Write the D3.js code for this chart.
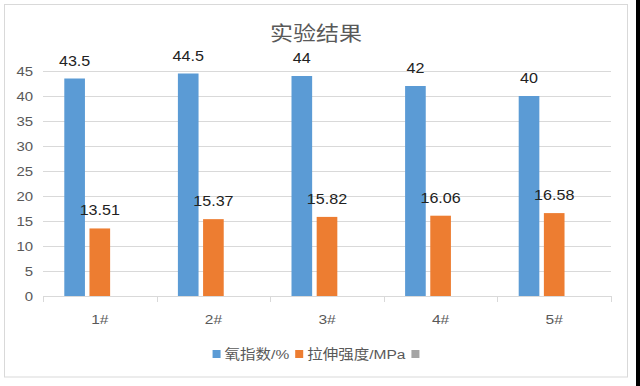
<!DOCTYPE html>
<html>
<head>
<meta charset="utf-8">
<script src="https://cdn.jsdelivr.net/npm/d3@7"></script>
<style>
  body { margin: 0; background: #fff; }
  text { font-family: "Liberation Sans", "Noto Sans CJK SC", sans-serif; }
</style>
</head>
<body>
<div id="chart"></div>
<script>
var svgWidth = 640;
var svgHeight = 386;

// data
var categories = ["1#", "2#", "3#", "4#", "5#"];
var seriesNames = ["氧指数/%", "拉伸强度/MPa", ""];
var oxygenIndex = [43.5, 44.5, 44, 42, 40];
var tensileStrength = [13.51, 15.37, 15.82, 16.06, 16.58];
var yTicks = [0, 5, 10, 15, 20, 25, 30, 35, 40, 45];
var colors = ["#5B9BD5", "#ED7D31", "#A5A5A5"];

var plot = { left: 43, right: 611, top: 71, bottom: 296 };
var stretch = 1.15; // source text looks horizontally stretched

var svg = d3.select("#chart").append("svg")
    .attr("width", svgWidth)
    .attr("height", svgHeight);

// outer chart border + black edge on the right
svg.append("rect")
    .attr("x", 4.5).attr("y", 4.5)
    .attr("width", 623).attr("height", 372.5)
    .attr("fill", "#fff").attr("stroke", "#D9D9D9");
svg.append("rect")
    .attr("x", 636).attr("y", 0)
    .attr("width", 4).attr("height", svgHeight)
    .attr("fill", "#000");

function addText(g, x, y, str, size, color, anchor) {
    return g.append("text")
        .attr("transform", `translate(${x},${y}) scale(${stretch},1)`)
        .attr("text-anchor", anchor || "middle")
        .attr("font-size", size)
        .attr("fill", color)
        .text(str);
}

// title
var title = addText(svg, 316, 41, "实验结果", 20, "#595959");
title.style("font-family", "'Noto Sans CJK SC', sans-serif");

var xScale = d3.scaleBand()
    .domain(categories)
    .range([plot.left, plot.right])
    .paddingInner(0.375)
    .paddingOuter(0.1875);

var xInner = d3.scaleBand()
    .domain([0, 1, 2])
    .range([0, xScale.bandwidth()])
    .paddingInner(0.18);

var yScale = d3.scaleLinear()
    .domain([0, 45])
    .range([plot.bottom, plot.top]);

// gridlines
svg.append("g")
    .selectAll("line")
    .data(yTicks.filter(d => d > 0))
    .enter()
    .append("line")
    .attr("x1", plot.left).attr("x2", plot.right)
    .attr("y1", d => Math.round(yScale(d)) + 0.5)
    .attr("y2", d => Math.round(yScale(d)) + 0.5)
    .attr("stroke", "#D9D9D9");

// y axis labels
var yAxisG = svg.append("g");
yTicks.forEach(function (t) {
    addText(yAxisG, 33, yScale(t) + 4.5, t, 13, "#595959", "end");
});

// bars
var rows = categories.map((c, i) => ({ cat: c, vals: [oxygenIndex[i], tensileStrength[i]] }));

var groups = svg.append("g").selectAll("g")
    .data(rows)
    .enter()
    .append("g")
    .attr("transform", d => `translate(${xScale(d.cat)},0)`);

groups.selectAll("rect")
    .data(d => d.vals)
    .enter()
    .append("rect")
    .attr("x", (d, i) => xInner(i))
    .attr("y", d => yScale(d))
    .attr("width", xInner.bandwidth())
    .attr("height", d => yScale(0) - yScale(d))
    .attr("fill", (d, i) => colors[i]);

// data labels
groups.each(function (d) {
    var g = d3.select(this);
    d.vals.forEach(function (v, i) {
        addText(g, xInner(i) + xInner.bandwidth() / 2, yScale(v) - 13, v, 14, "#222");
    });
});

// x axis
var step = xScale.step();
var boundaries = categories.map(c => xScale(c) - step * xScale.paddingInner() / 2);
boundaries.push(plot.right);

var xAxisG = svg.append("g");
xAxisG.append("line")
    .attr("x1", plot.left).attr("x2", plot.right)
    .attr("y1", plot.bottom + 0.5).attr("y2", plot.bottom + 0.5)
    .attr("stroke", "#D9D9D9");
xAxisG.selectAll("line.tick")
    .data(boundaries)
    .enter()
    .append("line")
    .attr("class", "tick")
    .attr("x1", d => Math.round(d) + 0.5).attr("x2", d => Math.round(d) + 0.5)
    .attr("y1", plot.bottom).attr("y2", plot.bottom + 6)
    .attr("stroke", "#D9D9D9");
categories.forEach(function (c) {
    addText(xAxisG, xScale(c) + xScale.bandwidth() / 2, 324, c, 13.5, "#595959");
});

// legend
var legend = svg.append("g");
var lx = 0;
var items = [];
seriesNames.forEach(function (name, i) {
    var sq = legend.append("rect")
        .attr("x", lx).attr("y", 350)
        .attr("width", 8).attr("height", 8)
        .attr("fill", colors[i]);
    lx += 8;
    if (name) {
        lx += 4;
        var t = addText(legend, lx, 359, name, 13.5, "#595959", "start");
        lx += t.node().getComputedTextLength() * stretch + 6;
    }
});
legend.attr("transform", `translate(${316 - lx / 2},0)`);
</script>
</body>
</html>
